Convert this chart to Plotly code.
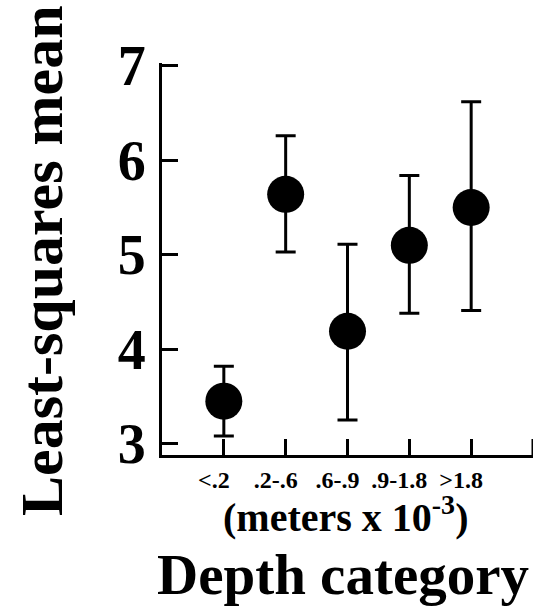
import plotly.graph_objects as go

categories = ["<.2", ".2-.6", ".6-.9", ".9-1.8", ">1.8"]
cat_pos = [1, 2, 3, 4, 5]
means = [3.45, 5.64, 4.19, 5.10, 5.50]
upper = [3.82, 6.26, 5.11, 5.84, 6.62]
lower = [3.08, 5.03, 3.25, 4.38, 4.41]

err_plus = [u - m for u, m in zip(upper, means)]
err_minus = [m - l for m, l in zip(means, lower)]

W, H = 538, 608
L, R, T, B = 162, 5, 63, 153
PW, PH = W - L - R, H - T - B

def px(xp):
    return (xp - L) / PW

def py(yp):
    return (H - B - yp) / PH

FONT = "Liberation Serif"

fig = go.Figure()
fig.add_trace(go.Scatter(
    x=cat_pos, y=means, mode="markers",
    marker=dict(size=37, color="black"),
    error_y=dict(type="data", symmetric=False, array=err_plus, arrayminus=err_minus,
                 color="black", thickness=3, width=10),
    showlegend=False, cliponaxis=False,
))

fig.add_shape(type="line", xref="x", yref="paper", x0=6, x1=6,
              ysizemode="pixel", yanchor=0, y0=0, y1=16,
              line=dict(color="black", width=3))

fig.update_layout(
    width=W, height=H,
    margin=dict(l=L, r=R, t=T, b=B, autoexpand=False),
    plot_bgcolor="white", paper_bgcolor="white",
    font=dict(family=FONT, color="black"),
    xaxis=dict(
        range=[0, 6], tickvals=cat_pos, ticktext=categories,
        showline=True, linecolor="black", linewidth=3,
        ticks="inside", ticklen=16, tickwidth=3, tickcolor="black",
        showgrid=False, zeroline=False, automargin=False,
        tickfont=dict(family=FONT, size=24, color="black", weight="bold"),
        ticklabelstandoff=1, ticklabelshift=-10,
    ),
    yaxis=dict(
        range=[2.88, 7.03], tickvals=[3, 4, 5, 6, 7],
        showline=True, linecolor="black", linewidth=3,
        ticks="inside", ticklen=16, tickwidth=3, tickcolor="black",
        showgrid=False, zeroline=False, automargin=False,
        tickfont=dict(family=FONT, size=56, color="black", weight="bold"),
        ticklabelstandoff=2,
    ),
    annotations=[
        dict(text="<b>Least-squares mean</b>", textangle=-90, x=px(42), y=py(261),
             xref="paper", yref="paper", showarrow=False, xanchor="center", yanchor="middle",
             font=dict(family=FONT, size=60, color="black")),
        dict(text="<b>(meters x 10<sup>-3</sup>)</b>", x=px(345), y=py(514),
             xref="paper", yref="paper", showarrow=False, xanchor="center", yanchor="middle",
             font=dict(family=FONT, size=40, color="black")),
        dict(text="<b>Depth category</b>", x=px(343), y=py(608),
             xref="paper", yref="paper", showarrow=False, xanchor="center", yanchor="bottom",
             font=dict(family=FONT, size=57, color="black")),
    ],
)

fig.write_html("out.html", config={"displayModeBar": False},
               post_script="document.body.style.margin='0px';")
